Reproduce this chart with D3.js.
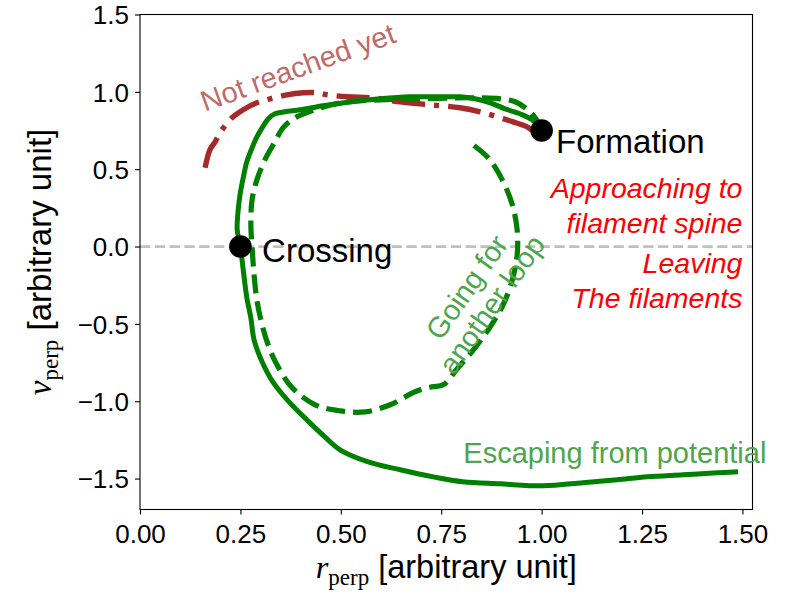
<!DOCTYPE html>
<html>
<head>
<meta charset="utf-8">
<script src="https://cdn.jsdelivr.net/npm/d3@7"></script>
<style>
  html, body { margin: 0; padding: 0; background: #fff; }
  svg { display: block; }
  text { font-family: "Liberation Sans", Arial, Helvetica, sans-serif; }
</style>
</head>
<body>
<svg id="chart" width="794" height="597"></svg>
<script>
// Orbit traced in phase space (r_perp, v_perp)
const mainR = [0.999, 0.976, 0.946, 0.909, 0.872, 0.834, 0.797, 0.747, 0.672, 0.598, 0.523, 0.456, 0.399, 0.361, 0.336, 0.319, 0.304, 0.291, 0.279, 0.266, 0.257, 0.249, 0.244, 0.242, 0.25, 0.257, 0.266, 0.276, 0.284, 0.304, 0.329, 0.371, 0.418, 0.463, 0.498, 0.568, 0.648, 0.730, 0.804, 0.897, 1.004, 1.103, 1.188, 1.263, 1.352, 1.437, 1.489];
const mainV = [0.754, 0.819, 0.858, 0.890, 0.929, 0.955, 0.968, 0.968, 0.968, 0.955, 0.935, 0.910, 0.884, 0.871, 0.858, 0.825, 0.767, 0.709, 0.638, 0.548, 0.444, 0.334, 0.224, 0.108, 0.0, -0.151, -0.332, -0.461, -0.603, -0.745, -0.868, -1.004, -1.127, -1.237, -1.314, -1.392, -1.443, -1.489, -1.521, -1.534, -1.547, -1.527, -1.508, -1.489, -1.476, -1.463, -1.456];

// Bound orbit that turns back for another loop
const loopR = [0.999, 0.984, 0.959, 0.934, 0.897, 0.847, 0.785, 0.697, 0.598, 0.498, 0.436, 0.386, 0.356, 0.336, 0.311, 0.291, 0.279, 0.276, 0.279, 0.284, 0.291, 0.304, 0.319, 0.341, 0.379, 0.436, 0.498, 0.560, 0.623, 0.685, 0.727, 0.755, 0.792, 0.834, 0.872, 0.904, 0.927, 0.939, 0.939, 0.927, 0.902, 0.867, 0.819];
const loopV = [0.754, 0.832, 0.897, 0.936, 0.955, 0.961, 0.961, 0.955, 0.948, 0.929, 0.884, 0.832, 0.767, 0.677, 0.561, 0.431, 0.302, 0.140, -0.002, -0.183, -0.345, -0.507, -0.636, -0.765, -0.913, -1.023, -1.062, -1.069, -1.023, -0.939, -0.907, -0.894, -0.784, -0.655, -0.519, -0.377, -0.215, -0.054, 0.108, 0.270, 0.431, 0.573, 0.677];

// Orbit segment not reached yet
const earlyR = [0.162, 0.174, 0.187, 0.204, 0.229, 0.257, 0.291, 0.324, 0.366, 0.406, 0.441, 0.466, 0.516, 0.580, 0.648, 0.722, 0.797, 0.847, 0.897, 0.929, 0.964, 0.976, 0.999];
const earlyV = [0.509, 0.625, 0.677, 0.754, 0.832, 0.884, 0.929, 0.955, 0.981, 0.994, 0.994, 0.981, 0.968, 0.961, 0.935, 0.916, 0.897, 0.871, 0.832, 0.806, 0.774, 0.754, 0.754];

// Marked events
const eventNames = ["Formation", "Crossing"];
const eventR = [1.0, 0.25];
const eventV = [0.75, 0.0];

// Axis ticks
const xTicks = [0, 0.25, 0.5, 0.75, 1.0, 1.25, 1.5];
const yTicks = [-1.5, -1.0, -0.5, 0.0, 0.5, 1.0, 1.5];

const svg = d3.select("#chart");
const pLeft = 140, pRight = 752.5, pTop = 14.5, pBottom = 509.5;

const x = d3.scaleLinear().domain([0, 1.525]).range([pLeft, pRight]);
const y = d3.scaleLinear().domain([-1.7, 1.5]).range([pBottom, pTop]);

const zip = (a, b) => a.map((v, i) => [v, b[i]]);
const line = d3.line().x(d => x(d[0])).y(d => y(d[1])).curve(d3.curveCatmullRom.alpha(0.5));

const plot = svg.append("g");

// zero-velocity reference line
plot.append("line")
  .attr("x1", pLeft).attr("x2", pRight)
  .attr("y1", y(0)).attr("y2", y(0))
  .attr("stroke", "#c0c0c0").attr("stroke-width", 2.8)
  .attr("stroke-dasharray", "10.3,4.5");

plot.append("path").datum(zip(earlyR, earlyV))
  .attr("d", line).attr("fill", "none")
  .attr("stroke", "#a52a2a").attr("stroke-width", 5.4)
  .attr("stroke-dasharray", "33,9,5,9");

plot.append("path").datum(zip(loopR, loopV))
  .attr("d", line).attr("fill", "none")
  .attr("stroke", "#008000").attr("stroke-width", 5.2)
  .attr("stroke-dasharray", "19,8");

plot.append("path").datum(zip(mainR, mainV))
  .attr("d", line).attr("fill", "none")
  .attr("stroke", "#008000").attr("stroke-width", 5.0)
  .attr("stroke-linejoin", "round");

plot.selectAll("circle.event").data(eventR).join("circle")
  .attr("class", "event")
  .attr("cx", d => x(d)).attr("cy", (d, i) => y(eventV[i]))
  .attr("r", 11.3).attr("fill", "#000");

// Axes frame
svg.append("rect")
  .attr("x", pLeft).attr("y", pTop)
  .attr("width", pRight - pLeft).attr("height", pBottom - pTop)
  .attr("fill", "none").attr("stroke", "#000").attr("stroke-width", 1.1);

const xAxis = svg.append("g").attr("transform", `translate(0,${pBottom})`)
  .call(d3.axisBottom(x).tickValues(xTicks).tickFormat(d3.format(".2f")).tickSize(5).tickPadding(5));
const yAxis = svg.append("g").attr("transform", `translate(${pLeft},0)`)
  .call(d3.axisLeft(y).tickValues(yTicks).tickFormat(d3.format(".1f")).tickSize(5).tickPadding(6));
[xAxis, yAxis].forEach(g => {
  g.select(".domain").remove();
  g.selectAll(".tick line").attr("stroke", "#000").attr("stroke-width", 1.1);
  g.selectAll(".tick text").attr("fill", "#000")
    .style("font-family", '"Liberation Sans", Arial, Helvetica, sans-serif')
    .style("font-size", "26px");
});
xAxis.selectAll(".tick text").attr("dy", "0.9em");
yAxis.selectAll(".tick text").attr("dy", "0.36em");

// Axis labels
const xl = svg.append("text")
  .attr("x", (pLeft + pRight) / 2).attr("y", 578)
  .attr("text-anchor", "middle").style("font-size", "32.5px").attr("fill", "#000");
xl.append("tspan").text("r").style("font-family", '"Liberation Serif", "DejaVu Serif", serif').style("font-style", "italic");
xl.append("tspan").text("perp").attr("dy", 7).style("font-size", "23px").style("font-family", '"Liberation Serif", "DejaVu Serif", serif');
xl.append("tspan").text(" [arbitrary unit]").attr("dy", -7);

const yl = svg.append("text")
  .attr("transform", `translate(51,${(pTop + pBottom) / 2}) rotate(-90)`)
  .attr("text-anchor", "middle").style("font-size", "33px").attr("fill", "#000");
yl.append("tspan").text("v").style("font-family", '"Liberation Serif", "DejaVu Serif", serif').style("font-style", "italic");
yl.append("tspan").text("perp").attr("dy", 7).style("font-size", "23px").style("font-family", '"Liberation Serif", "DejaVu Serif", serif');
yl.append("tspan").text(" [arbitrary unit]").attr("dy", -7);

// Annotations
svg.append("text").attr("x", x(1.036)).attr("y", y(0.606))
  .style("font-size", "33px").attr("fill", "#000").text("Formation");
svg.append("text").attr("x", x(0.304)).attr("y", y(-0.099))
  .style("font-size", "33px").attr("fill", "#000").text("Crossing");

const redLines = [["Approaching to", 0.315], ["filament spine", 0.089], ["Leaving", -0.17], ["The filaments", -0.396]];
redLines.forEach(([t, v]) => {
  svg.append("text").attr("x", x(1.5)).attr("y", y(v))
    .attr("text-anchor", "end").style("font-size", "28.5px").style("font-style", "italic")
    .attr("fill", "#ff0000").text(t);
});

svg.append("text").attr("x", x(0.805)).attr("y", y(-1.398))
  .style("font-size", "29px").attr("fill", "#4da64d").text("Escaping from potential");

svg.append("text")
  .attr("transform", `translate(${x(0.162)},${y(0.871)}) rotate(-20)`)
  .style("font-size", "29px").attr("fill", "#c06a6a").text("Not reached yet");

const loopLabel = svg.append("text")
  .attr("transform", `translate(${x(0.84)},${y(-0.31)}) rotate(-55)`)
  .attr("text-anchor", "middle").style("font-size", "29px").attr("fill", "#4da64d");
loopLabel.append("tspan").attr("x", 0).attr("dy", "-0.1em").text("Going for");
loopLabel.append("tspan").attr("x", 0).attr("dy", "1.05em").text("another loop");
</script>
</body>
</html>
